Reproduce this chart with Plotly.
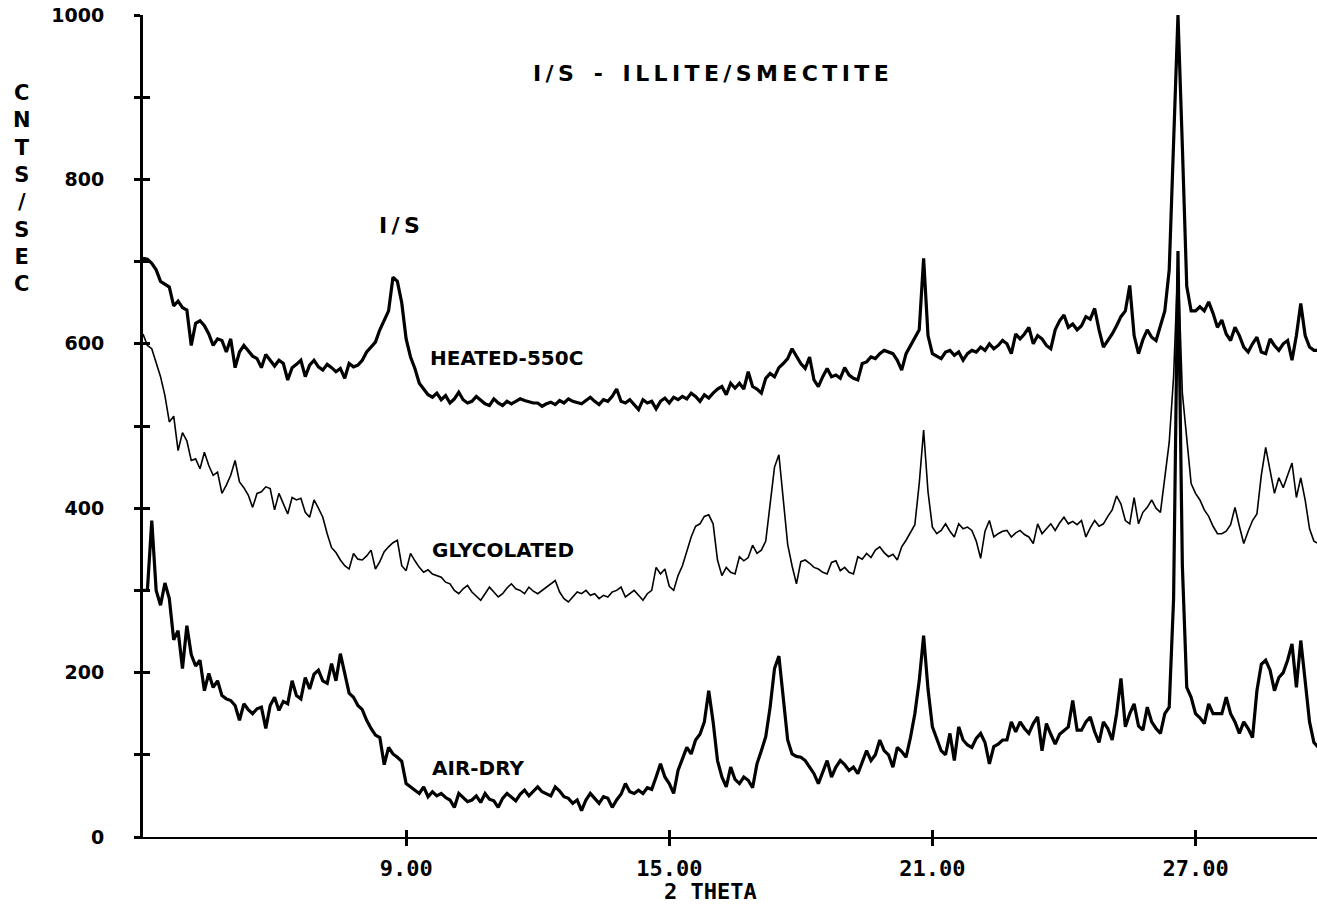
import plotly.graph_objects as go

# ---- data (counts/sec, 2-theta grid 3.0 .. 29.8 step 0.1) ----
two_theta_start = 3.0
two_theta_step = 0.1

heated_550c = [
    704, 703, 698, 690, 676, 672, 669, 646, 652, 644,
    641, 598, 625, 628, 622, 612, 598, 606, 604, 590,
    606, 571, 590, 598, 592, 585, 582, 571, 587, 580,
    573, 580, 576, 556, 571, 575, 580, 560, 574, 580,
    572, 568, 575, 571, 566, 570, 558, 576, 572, 574,
    580, 590, 596, 602, 617, 628, 640, 681, 676, 650,
    606, 584, 570, 552, 545, 538, 535, 540, 532, 537,
    528, 533, 541, 532, 528, 530, 536, 531, 527, 525,
    533, 528, 525, 530, 527, 530, 533, 531, 529, 528,
    528, 524, 527, 529, 526, 531, 528, 533, 530, 528,
    527, 531, 535, 530, 526, 532, 530, 536, 545, 530,
    528, 532, 526, 520, 532, 528, 530, 521, 530, 534,
    528, 535, 532, 536, 533, 540, 536, 530, 538, 534,
    540, 545, 548, 538, 552, 546, 552, 545, 566, 548,
    545, 540, 558, 564, 560, 571, 576, 582, 594, 584,
    576, 570, 584, 556, 548, 560, 570, 560, 562, 558,
    571, 562, 558, 556, 576, 578, 584, 582, 588, 592,
    590, 588, 580, 568, 588, 598, 606, 617, 704, 610,
    588, 585, 582, 590, 592, 586, 590, 580, 588, 592,
    590, 596, 592, 600, 594, 598, 604, 600, 588, 612,
    606, 612, 620, 600, 610, 606, 598, 594, 617, 628,
    635, 620, 624, 617, 622, 633, 630, 643, 617, 596,
    604, 612, 622, 633, 640, 671, 610, 588, 605, 617,
    608, 604, 622, 640, 690, 850, 1000, 840, 670, 640,
    640, 645, 640, 651, 637, 620, 629, 612, 604, 620,
    610, 596, 590, 600, 608, 590, 588, 606, 598, 592,
    600, 604, 580, 610, 649, 610, 596, 592, 592,
]

glycolated = [
    612, 598, 594, 576, 560, 537, 505, 512, 470, 492,
    482, 458, 460, 448, 468, 452, 440, 444, 418, 428,
    440, 458, 432, 425, 416, 401, 418, 420, 426, 424,
    398, 418, 405, 393, 413, 410, 412, 395, 389, 410,
    400, 389, 369, 352, 346, 337, 330, 326, 345, 338,
    337, 342, 349, 326, 335, 347, 353, 358, 361, 330,
    324, 345, 336, 328, 322, 325, 320, 318, 316, 310,
    308, 300, 296, 302, 306, 298, 293, 288, 296, 304,
    298, 292, 296, 303, 308, 302, 300, 296, 304, 299,
    296, 300, 305, 308, 312, 298, 290, 286, 292, 298,
    296, 300, 294, 296, 290, 294, 292, 298, 300, 304,
    292, 296, 300, 294, 288, 296, 300, 328, 320, 326,
    305, 300, 318, 330, 349, 365, 378, 381, 390, 392,
    381, 337, 318, 328, 322, 320, 341, 336, 340, 355,
    345, 349, 360, 406, 450, 465, 410, 356, 330, 308,
    335, 337, 333, 328, 326, 322, 320, 334, 336, 324,
    328, 322, 320, 341, 338, 345, 340, 349, 353, 346,
    341, 344, 337, 353, 361, 370, 380, 430, 495, 420,
    377, 369, 373, 381, 372, 365, 381, 375, 377, 373,
    360, 339, 372, 385, 365, 369, 372, 373, 365, 370,
    373, 368, 365, 357, 381, 369, 375, 381, 373, 382,
    389, 381, 384, 380, 385, 365, 376, 385, 378, 381,
    390, 398, 415, 405, 385, 381, 413, 381, 395, 401,
    410, 400, 395, 435, 480, 560, 700, 540, 486, 430,
    418, 410, 398, 390, 378, 369, 369, 372, 380, 401,
    378, 357, 372, 385, 393, 440, 474, 446, 418, 437,
    425, 440, 455, 413, 437, 410, 375, 360, 357,
]

air_dry = [
    300, 300, 385, 300, 282, 309, 290, 240, 251, 205,
    257, 222, 208, 215, 178, 199, 182, 190, 172, 168,
    166, 160, 142, 162, 155, 150, 156, 158, 132, 160,
    170, 154, 165, 162, 190, 172, 168, 194, 180, 198,
    203, 190, 187, 211, 190, 223, 199, 175, 170, 160,
    155, 142, 132, 124, 121, 88, 109, 101, 97, 92,
    65, 61, 56, 53, 61, 49, 55, 50, 53, 48,
    45, 36, 53, 48, 43, 45, 50, 42, 53, 46,
    44, 36, 47, 53, 48, 44, 52, 57, 50, 55,
    61, 55, 53, 50, 61, 56, 49, 47, 41, 45,
    32, 45, 53, 47, 41, 49, 47, 36, 45, 52,
    65, 55, 53, 57, 53, 60, 58, 73, 89, 73,
    65, 53, 81, 95, 109, 101, 118, 125, 140, 178,
    140, 93, 73, 61, 85, 70, 65, 73, 69, 60,
    89, 105, 122, 158, 205, 220, 165, 118, 101, 98,
    97, 93, 85, 77, 65, 80, 93, 73, 85, 93,
    88, 81, 85, 77, 90, 105, 93, 100, 118, 105,
    100, 85, 109, 104, 97, 121, 150, 190, 245, 180,
    134, 118, 105, 100, 126, 93, 134, 118, 112, 109,
    120, 126, 115, 89, 110, 113, 118, 118, 140, 128,
    140, 132, 126, 138, 146, 105, 138, 125, 113, 125,
    130, 134, 166, 130, 130, 140, 146, 128, 115, 140,
    132, 118, 150, 193, 134, 150, 162, 135, 130, 158,
    140, 132, 126, 150, 158, 290, 713, 330, 182, 170,
    150, 145, 138, 162, 150, 150, 150, 170, 150, 140,
    126, 140, 132, 121, 178, 210, 215, 203, 178, 194,
    200, 215, 235, 182, 239, 190, 140, 115, 109,
]

x_tick_values = [9, 15, 21, 27]
x_tick_labels = ["9.00", "15.00", "21.00", "27.00"]
y_tick_values = list(range(0, 1001, 100))
y_tick_labels = [str(v) if v % 200 == 0 else "" for v in y_tick_values]

series_labels = ["HEATED-550C", "GLYCOLATED", "AIR-DRY"]
peak_label = "I/S"
chart_title = "I/S - ILLITE/SMECTITE"
x_title = "2 THETA"
y_title = "CNTS/SEC"


def theta_grid(values):
    return [round(two_theta_start + i * two_theta_step, 2) for i in range(len(values))]


X_RANGE = [3.0, 29.77]
Y_RANGE = [0, 1000]

fig = go.Figure()
fig.add_trace(go.Scatter(x=theta_grid(heated_550c), y=heated_550c, mode="lines",
                         line=dict(color="black", width=3.2), name=series_labels[0],
                         showlegend=False, hoverinfo="skip"))
fig.add_trace(go.Scatter(x=theta_grid(glycolated), y=glycolated, mode="lines",
                         line=dict(color="black", width=1.6), name=series_labels[1],
                         showlegend=False, hoverinfo="skip", xaxis="x2", yaxis="y2"))
fig.add_trace(go.Scatter(x=theta_grid(air_dry), y=air_dry, mode="lines",
                         line=dict(color="black", width=3.2), name=series_labels[2],
                         showlegend=False, hoverinfo="skip"))

tick_font_y = dict(family="DejaVu Sans", size=19, color="black", weight="bold")
tick_font_x = dict(family="DejaVu Sans Mono", size=22, color="black", weight="bold")

fig.update_layout(
    width=1317, height=906,
    paper_bgcolor="white", plot_bgcolor="white",
    margin=dict(l=143, r=0, t=15, b=69, autoexpand=False),
    xaxis=dict(range=X_RANGE, showgrid=False, zeroline=False, showline=True,
               linecolor="black", linewidth=2, ticks="outside", ticklen=7,
               tickwidth=2.5, tickcolor="black", tickvals=x_tick_values,
               ticktext=x_tick_labels, tickfont=tick_font_x, ticklabelstandoff=4),
    xaxis2=dict(range=X_RANGE, overlaying="x", side="bottom", anchor="y2",
                showgrid=False, zeroline=False, showline=False, ticks="inside",
                ticklen=7, tickwidth=2.5, tickcolor="black", tickvals=x_tick_values,
                showticklabels=False),
    yaxis=dict(range=Y_RANGE, showgrid=False, zeroline=False, showline=True,
               linecolor="black", linewidth=3, ticks="outside", ticklen=6,
               tickwidth=3, tickcolor="black", tickvals=y_tick_values,
               ticktext=y_tick_labels, tickfont=tick_font_y, ticklabelstandoff=26),
    yaxis2=dict(range=Y_RANGE, overlaying="y", side="left", anchor="x2",
                showgrid=False, zeroline=False, showline=False, ticks="inside",
                ticklen=7, tickwidth=3, tickcolor="black", tickvals=y_tick_values,
                showticklabels=False),
)


def spaced(text, gap="\u2009", wide="\u2002"):
    return gap.join(wide if ch == " " else ch for ch in text)


label_font = dict(family="DejaVu Sans", size=20, color="black", weight="bold")
annotations = [
    dict(text=spaced(chart_title), x=0.4838, y=0.9294, xref="paper", yref="paper",
         xanchor="center", yanchor="middle", showarrow=False,
         font=dict(family="DejaVu Sans", size=22, color="black", weight="bold")),
    dict(text=spaced(peak_label), x=8.85, y=744, xref="x", yref="y",
         xanchor="center", yanchor="middle", showarrow=False,
         font=dict(family="DejaVu Sans", size=22, color="black", weight="bold")),
    dict(text=series_labels[0], x=9.5, y=583, xref="x", yref="y", xanchor="left",
         yanchor="middle", showarrow=False, font=label_font),
    dict(text=series_labels[1], x=9.55, y=349, xref="x", yref="y", xanchor="left",
         yanchor="middle", showarrow=False, font=label_font),
    dict(text=series_labels[2], x=9.55, y=84, xref="x", yref="y", xanchor="left",
         yanchor="middle", showarrow=False, font=label_font),
    dict(text=x_title, x=0.4838, y=-0.066, xref="paper", yref="paper",
         xanchor="center", yanchor="middle", showarrow=False,
         font=dict(family="DejaVu Sans Mono", size=22, color="black", weight="bold")),
    dict(text="<br>".join(list(y_title)), x=-0.103, y=0.7895, xref="paper", yref="paper",
         xanchor="center", yanchor="middle", showarrow=False,
         font=dict(family="DejaVu Sans", size=21, color="black", weight="bold")),
]
fig.update_layout(annotations=annotations)

fig.write_html("out.html", config={"displayModeBar": False},
               post_script="document.body.style.margin='0';document.body.style.overflow='hidden';")
